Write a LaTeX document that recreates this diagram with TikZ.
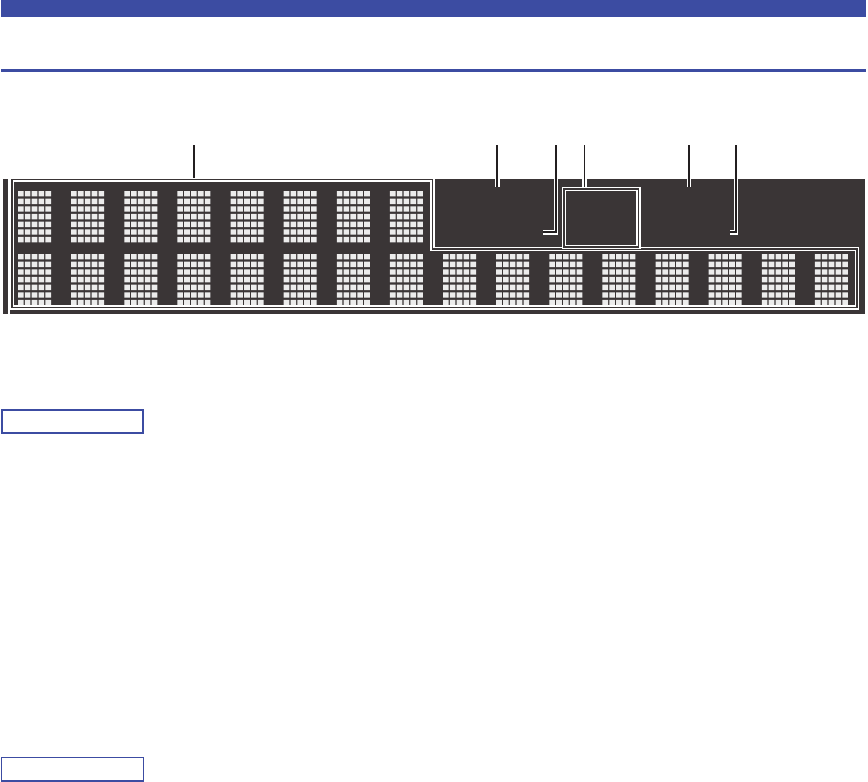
\documentclass[tikz,border=0pt]{standalone}
\usepackage{tikz}
\usepackage{xcolor}
\definecolor{ManualBlue}{HTML}{3C4CA2}
\definecolor{PanelDark}{HTML}{3A3536}
\definecolor{DotGray}{HTML}{ECECEC}
\definecolor{LeaderBlack}{HTML}{231F20}
\tikzset{
    % Blue header stripes
    header bar/.style={
        fill=ManualBlue,
        draw=none
    },
    % Display glass and dot matrix
    panel/.style={
        fill=PanelDark,
        draw=none
    },
    dot lit/.style={
        fill=DotGray
    },
    frame line/.style={
        draw=white,
        line width=1.4pt,
        double=PanelDark,
        double distance=1.6pt
    },
    frame box/.style={
        rectangle,
        frame line,
        anchor=north west,
        inner sep=0pt,
        outer sep=2.2pt
    },
    leader/.style={
        draw=white,
        line width=1.3pt,
        double=LeaderBlack,
        double distance=1.8pt
    },
    note box/.style={
        rectangle,
        draw=ManualBlue,
        fill=white,
        anchor=north west,
        inner sep=0pt,
        outer sep=0pt
    }
}

\begin{document}
\begin{tikzpicture}[x=1pt, y=-1pt]
        \useasboundingbox (0,0) rectangle (868,782);

        % Header
        \fill[header bar] (0.5,0) rectangle (866,17);
        \fill[header bar] (0.5,69) rectangle (866,71.8);

        % Display panel
        \fill[panel] (3,179) rectangle (8,314);
        \fill[panel] (10,179) rectangle (865,314);

        % Upper row, 8 characters
        \fill[dot lit] \foreach \k in {0,...,7} {\foreach \c in {0,...,4} {\foreach \r in {0,...,6} {
            (18+53.13*\k+6.85*\c, 191+7.65*\r) rectangle ++(5.6,5.4)}}};

        % Lower row, 16 characters
        \fill[dot lit] \foreach \k in {0,...,15} {\foreach \c in {0,...,4} {\foreach \r in {0,...,6} {
            (18+53.13*\k+6.85*\c, 254+7.65*\r) rectangle ++(5.6,5.4)}}};

        % Character area outline
        \draw[frame line] (12,179.5) -- (432.5,179.5) -- (432.5,249) -- (857,249)
            -- (857,307.5) -- (12,307.5) -- cycle;

        % Indicator window
        \node[frame box, minimum width=74.5pt, minimum height=58pt] (window) at (561.8,186.5) {};

        % Leader lines
        \coordinate (tipA) at (194,145);
        \coordinate (endA) at (194,177.5);
        \coordinate (tipB) at (497.3,145);
        \coordinate (endB) at (497.3,187);
        \coordinate (tipC) at (556,145);
        \coordinate (endC) at (543,232.3);
        \coordinate (tipD) at (584.5,145);
        \coordinate (tipE) at (689,145);
        \coordinate (endE) at (689,187);
        \coordinate (tipF) at (735.7,145);
        \coordinate (endF) at (730,232.3);

        \draw[leader] (tipA) -- (endA);
        \draw[leader] (tipB) -- (endB);
        \draw[leader] (tipC) |- (endC);
        \draw[leader] (tipD) -- (tipD |- window.north);
        \draw[leader] (tipE) -- (endE);
        \draw[leader] (tipF) |- (endF);

        % Note boxes
        \node[note box, line width=2pt, minimum width=140.8pt, minimum height=23pt] (noteA) at (2.2,410.3) {};
        \node[note box, line width=1.3pt, minimum width=141.6pt, minimum height=23.7pt] (noteB) at (1.7,757.3) {};
    \end{tikzpicture}
\end{document}
